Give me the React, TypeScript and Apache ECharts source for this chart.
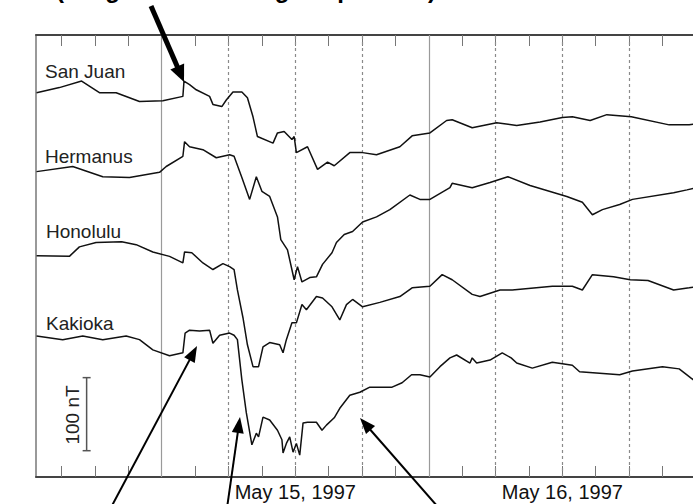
import React, { useEffect, useRef } from 'react';
import * as echarts from 'echarts';

// ---- data (hours since 1997-05-14 00:00 UT, H deviation in nT) ----
const stationNames = ['San Juan', 'Hermanus', 'Honolulu', 'Kakioka'];
const stationOffsets = [526, 418, 303, 193];

const sanJuan: number[][] = [
  [12.75, 0], [14.8, 7], [16.8, 16], [18.4, 0], [19.9, 0], [22.0, -12], [24.1, -11], [25.9, -5],
  [26.0, 16], [26.5, 11], [27.1, 4], [28.3, -5], [28.6, -16], [29.4, -19], [29.8, -10], [30.4, 1],
  [31.2, 1], [31.7, -7], [32.2, -33], [32.6, -60], [34.0, -69], [34.4, -55], [35.0, -53], [35.7, -64],
  [35.9, -60], [36.1, -82], [37.1, -74], [38.0, -105], [38.9, -95], [39.5, -100], [40.9, -82],
  [42.05, -82], [43.3, -85], [45.4, -74], [46.5, -59], [48.1, -55], [49.6, -38], [50.1, -37],
  [51.9, -48], [54.1, -41], [55.9, -45], [58.0, -40], [60.0, -34], [60.9, -33], [62.5, -38],
  [64.0, -30], [66.2, -33], [69.6, -44], [71.4, -44], [72.3, -42],
];

const hermanus: number[][] = [
  [12.75, 0], [16.0, 7], [18.7, -7], [21.1, -8], [23.8, -1], [24.4, 7], [25.9, 21], [26.05, 41],
  [26.5, 34], [27.7, 30], [28.9, 19], [30.1, 23], [30.5, 21], [31.2, -8], [31.9, -38], [32.5, -7],
  [33.0, -27], [33.7, -34], [34.4, -62], [34.7, -93], [35.3, -107], [35.9, -148], [36.2, -130],
  [36.6, -151], [37.3, -145], [37.9, -144], [38.45, -127], [39.3, -111], [39.7, -97], [40.4, -86],
  [41.15, -82], [42.05, -69], [43.3, -62], [44.5, -52], [46.3, -32], [47.2, -38], [48.1, -38],
  [49.9, -22], [50.1, -16], [51.9, -22], [53.5, -15], [55.1, -7], [57.1, -19], [60.4, -34],
  [61.8, -42], [62.7, -59], [63.6, -52], [65.15, -45], [66.3, -38], [70.0, -29], [71.2, -25], [72.3, -21],
];

const honolulu: number[][] = [
  [12.75, 0], [15.7, -1], [16.6, 12], [18.1, 18], [20.4, 19], [21.7, 15], [23.2, 5], [24.7, -1],
  [25.9, -10], [26.05, 5], [26.7, 4], [27.7, -10], [28.6, -19], [29.5, -11], [30.1, -15], [30.5, -19],
  [30.8, -47], [31.3, -85], [31.7, -122], [32.2, -152], [32.7, -152], [33.1, -125], [33.7, -119],
  [34.6, -122], [34.9, -133], [35.2, -115], [35.7, -92], [36.1, -92], [36.6, -67], [37.0, -74],
  [37.9, -56], [38.45, -58], [39.3, -70], [40.0, -88], [40.6, -67], [41.15, -60], [42.05, -70],
  [43.6, -64], [45.4, -56], [46.5, -44], [48.1, -42], [49.2, -26], [50.1, -33], [51.9, -53],
  [52.6, -56], [54.4, -47], [55.5, -47], [59.1, -42], [60.9, -42], [61.8, -47], [62.7, -26],
  [64.6, -29], [66.1, -33], [67.7, -34], [70.0, -47], [71.4, -44], [72.3, -42],
];

const kakioka: number[][] = [
  [12.75, 0], [15.1, -5], [16.9, 0], [18.7, -5], [20.8, 0], [22.0, -5], [23.2, -19], [24.7, -27],
  [25.9, -23], [26.1, 4], [26.5, 8], [27.4, 7], [28.3, 8], [28.6, -10], [29.2, 1], [30.1, 4],
  [30.5, 1], [30.8, -5], [31.2, -60], [31.6, -105], [32.1, -149], [32.5, -133], [32.7, -138],
  [33.1, -111], [33.7, -115], [34.4, -129], [34.8, -142], [34.9, -160], [35.2, -147], [35.5, -138],
  [35.8, -159], [36.1, -147], [36.4, -163], [36.7, -119], [37.1, -118], [37.9, -118], [38.4, -129],
  [38.8, -122], [39.5, -112], [40.0, -99], [40.9, -81], [41.8, -77], [42.7, -70], [44.7, -70],
  [45.6, -64], [46.45, -53], [47.2, -53], [48.1, -56], [49.0, -42], [49.9, -30], [50.5, -26],
  [51.7, -37], [51.9, -30], [52.3, -37], [53.5, -33], [54.6, -23], [55.4, -30], [55.9, -37],
  [57.3, -44], [59.1, -36], [60.9, -40], [61.55, -49], [63.35, -51], [65.15, -53], [66.3, -48],
  [69.0, -42], [70.5, -45], [71.6, -58], [72.3, -66],
];

const stationData = [sanJuan, hermanus, honolulu, kakioka];

const solidLineHours = [24, 48, 72];
const dottedLineHours = [30, 36, 42, 54, 60, 66];
const tickHours = [15, 18, 21, 24, 27, 30, 33, 36, 39, 42, 45, 48, 51, 54, 57, 60, 63, 66, 69, 72];
const dateLabelHours = [36, 60];
const dateLabels = ['May 15, 1997', 'May 16, 1997'];

const scaleBarHour = 17.25;
const scaleBarBase = 36;
const scaleBarSpan = 100;
const scaleBarLabel = '100 nT';

const topCaption = '(a big sudden change in positive)';

const X_MIN = 12.7;
const X_MAX = 73;
const Y_MAX = 605;

// ---- layout ----
const GRID_LEFT = 36;
const GRID_TOP = 35;
const GRID_H = 442;
const GRID_W = 671;
const FONT = 'Liberation Sans, Arial, Helvetica, sans-serif';

const stationLabelPos = [
  [45, 71.5],
  [45, 156],
  [46, 231],
  [46, 323],
];

function arrow(x1: number, y1: number, tx: number, ty: number, lw: number, headLen: number, headHalf: number) {
  const dx = tx - x1;
  const dy = ty - y1;
  const len = Math.sqrt(dx * dx + dy * dy);
  const ux = dx / len;
  const uy = dy / len;
  const bx = tx - ux * headLen;
  const by = ty - uy * headLen;
  const px = -uy;
  const py = ux;
  return [
    {
      type: 'line',
      z: 100,
      shape: { x1, y1, x2: bx + ux * 2, y2: by + uy * 2 },
      style: { stroke: '#000', lineWidth: lw },
    },
    {
      type: 'polygon',
      z: 100,
      shape: {
        points: [
          [tx, ty],
          [bx + px * headHalf, by + py * headHalf],
          [bx - px * headHalf, by - py * headHalf],
        ],
      },
      style: { fill: '#000' },
    },
  ];
}

export default function App() {
  const ref = useRef<HTMLDivElement>(null);

  useEffect(() => {
    if (!ref.current) return;
    const chart = echarts.init(ref.current, undefined, { renderer: 'svg' });

    const gridLineData = [
      ...solidLineHours.map((h) => ({ xAxis: h, lineStyle: { color: '#9a9a9a', width: 1.2, type: 'solid' } })),
      ...dottedLineHours.map((h) => ({ xAxis: h, lineStyle: { color: '#8a8a8a', width: 1.2, type: [3, 3] } })),
    ];

    const axisCommon = {
      type: 'value',
      min: X_MIN,
      max: X_MAX,
      splitLine: { show: false },
      axisLine: { show: true, onZero: false, lineStyle: { color: '#444', width: 2 } },
      axisTick: {
        show: true,
        inside: true,
        length: 11,
        customValues: tickHours,
        lineStyle: { color: '#777', width: 1 },
      },
    };

    const stationSeries = stationData.map((d, i) => ({
      type: 'line',
      name: stationNames[i],
      data: d.map((p) => [p[0], stationOffsets[i] + p[1]]),
      symbol: 'none',
      z: 5,
      lineStyle: { color: '#111', width: 1.5 },
      clip: true,
    }));

    const graphics: any[] = [];
    stationNames.forEach((name, i) => {
      graphics.push({
        type: 'text',
        z: 100,
        x: stationLabelPos[i][0],
        y: stationLabelPos[i][1],
        style: {
          text: name,
          fill: '#222',
          font: `19px ${FONT}`,
          textAlign: 'left',
          textVerticalAlign: 'middle',
          align: 'left',
          verticalAlign: 'middle',
        },
      });
    });
    graphics.push({
      type: 'text',
      z: 100,
      x: 72,
      y: 415,
      rotation: Math.PI / 2,
      style: {
        text: scaleBarLabel,
        fill: '#222',
        font: `19px ${FONT}`,
        textAlign: 'center',
        textVerticalAlign: 'middle',
        align: 'center',
        verticalAlign: 'middle',
      },
    });
    graphics.push({
      type: 'text',
      z: 100,
      x: 56,
      y: 1,
      style: {
        text: topCaption,
        fill: '#000',
        font: `bold 24px ${FONT}`,
        textAlign: 'left',
        textVerticalAlign: 'bottom',
        align: 'left',
        verticalAlign: 'bottom',
      },
    });
    graphics.push(...arrow(151, 6, 184, 82, 5, 17, 7.5));
    graphics.push(...arrow(107, 515, 197, 346, 2, 16, 6));
    graphics.push(...arrow(226, 515, 240, 417, 2, 16, 6));
    graphics.push(...arrow(445, 515, 360, 418, 2, 16, 6));

    const option: any = {
      animation: false,
      backgroundColor: '#ffffff',
      grid: {
        left: GRID_LEFT,
        top: GRID_TOP,
        width: GRID_W,
        height: GRID_H,
        containLabel: false,
        outerBoundsMode: 'none',
      },
      xAxis: [
        {
          ...axisCommon,
          position: 'bottom',
          axisLabel: {
            show: true,
            customValues: dateLabelHours,
            formatter: (v: number) => {
              const i = dateLabelHours.indexOf(v);
              return i >= 0 ? dateLabels[i] : '';
            },
            fontSize: 20,
            fontFamily: FONT,
            color: '#111',
            margin: 5,
          },
        },
        {
          ...axisCommon,
          position: 'top',
          axisLabel: { show: false },
        },
      ],
      yAxis: {
        type: 'value',
        min: 0,
        max: Y_MAX,
        axisLine: { show: true, onZero: false, lineStyle: { color: '#777', width: 1.5 } },
        axisTick: { show: false },
        axisLabel: { show: false },
        splitLine: { show: false },
      },
      series: [
        {
          type: 'line',
          data: [[X_MIN, 0]],
          symbol: 'none',
          lineStyle: { opacity: 0 },
          z: 1,
          markLine: {
            silent: true,
            symbol: 'none',
            label: { show: false },
            data: gridLineData,
          },
        },
        ...stationSeries,
        {
          type: 'line',
          data: [
            [scaleBarHour, scaleBarBase],
            [scaleBarHour, scaleBarBase + scaleBarSpan],
          ],
          symbol: 'rect',
          symbolSize: [8, 1.5],
          showSymbol: true,
          itemStyle: { color: '#555' },
          lineStyle: { color: '#555', width: 1.5 },
          z: 5,
        },
      ],
      graphic: graphics,
    };

    chart.setOption(option);
    return () => chart.dispose();
  }, []);

  return (
    <div
      ref={ref}
      style={{ position: 'absolute', left: 0, top: 0, width: 693, height: 504, background: '#fff' }}
    />
  );
}
